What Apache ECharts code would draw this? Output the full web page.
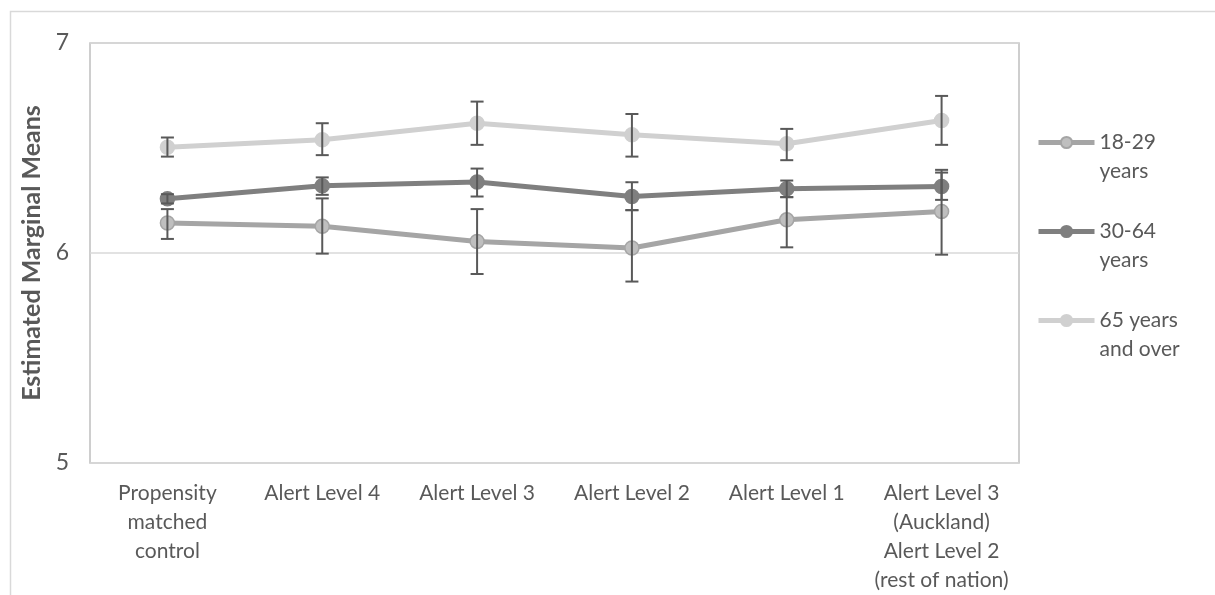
<!DOCTYPE html>
<html>
<head>
<meta charset="utf-8">
<script src="https://cdn.jsdelivr.net/npm/echarts@6/dist/echarts.min.js"></script>
<style>html,body{margin:0;padding:0;background:#fff;}#c{width:1215px;height:595px;}</style>
</head>
<body>
<div id="c"></div>
<script>
const categories = ['Propensity\nmatched\ncontrol', 'Alert Level 4', 'Alert Level 3', 'Alert Level 2', 'Alert Level 1', 'Alert Level 3\n(Auckland)\nAlert Level 2\n(rest of nation)'];
const seriesNames = ['18-29\nyears', '30-64\nyears', '65 years\nand over'];
const mean18 = [6.143, 6.127, 6.055, 6.024, 6.158, 6.198];
const low18 = [6.067, 5.997, 5.900, 5.864, 6.027, 5.992];
const high18 = [6.209, 6.260, 6.209, 6.204, 6.266, 6.383];
const mean30 = [6.258, 6.320, 6.338, 6.269, 6.306, 6.317];
const low30 = [6.236, 6.277, 6.269, 6.204, 6.266, 6.253];
const high30 = [6.280, 6.360, 6.402, 6.337, 6.345, 6.396];
const mean65 = [6.504, 6.539, 6.618, 6.563, 6.520, 6.631];
const low65 = [6.459, 6.466, 6.515, 6.459, 6.442, 6.515];
const high65 = [6.550, 6.618, 6.721, 6.662, 6.591, 6.748];
const yTicks = [5, 6, 7];

const FONT = 'Lato';
const TXT = '#595959';

function errSeries(low, high, name) {
  return {
    type: 'custom',
    name: name + '_err',
    z: 5,
    silent: true,
    data: low.map((l, i) => [i, l, high[i]]),
    encode: { x: 0, y: [1, 2] },
    renderItem: function (params, api) {
      const x = api.value(0);
      const p1 = api.coord([x, api.value(1)]);
      const p2 = api.coord([x, api.value(2)]);
      const hw = 6.5;
      const st = { stroke: '#595959', lineWidth: 2 };
      return {
        type: 'group',
        children: [
          { type: 'line', shape: { x1: p1[0], y1: p1[1], x2: p2[0], y2: p2[1] }, style: st },
          { type: 'line', shape: { x1: p1[0] - hw, y1: p1[1], x2: p1[0] + hw, y2: p1[1] }, style: st },
          { type: 'line', shape: { x1: p2[0] - hw, y1: p2[1], x2: p2[0] + hw, y2: p2[1] }, style: st }
        ]
      };
    }
  };
}

function lineSeries(name, data, lineColor, fill, border) {
  return {
    type: 'line',
    name: name,
    data: data,
    symbol: 'circle',
    symbolSize: 14,
    z: 3,
    lineStyle: { width: 5, color: lineColor },
    itemStyle: { color: fill, borderColor: border, borderWidth: 1.5 },
    emphasis: { disabled: true }
  };
}

const chart = echarts.init(document.getElementById('c'), null, { renderer: 'canvas' });
chart.setOption({
  animation: false,
  backgroundColor: '#fff',
  textStyle: { fontFamily: FONT },
  graphic: [{
    type: 'rect', left: 8, top: 9, z: -10,
    shape: { width: 1230, height: 620 },
    style: { fill: 'none', stroke: '#d9d9d9', lineWidth: 1.5 }
  }],
  grid: { left: 90, right: 196, top: 43, bottom: 132, show: true, borderColor: '#bfbfbf', borderWidth: 1.5, backgroundColor: 'transparent' },
  legend: {
    orient: 'vertical',
    left: 1036,
    top: 99,
    padding: 0,
    itemGap: 2,
    itemWidth: 56,
    itemHeight: 14,
    data: seriesNames,
    lineStyle: { width: 5 },
    formatter: n => '\n' + n,
    textStyle: { fontFamily: FONT, fontSize: 21, color: TXT, lineHeight: 29 }
  },
  xAxis: {
    type: 'category',
    data: categories,
    boundaryGap: true,
    axisLine: { show: false },
    axisTick: { show: false },
    axisLabel: { color: TXT, fontSize: 21, fontFamily: FONT, lineHeight: 29, margin: 16, interval: 0 }
  },
  yAxis: {
    type: 'value',
    min: 5, max: 7, interval: 1,
    name: 'Estimated Marginal Means',
    nameLocation: 'middle',
    nameGap: 38,
    nameRotate: 90,
    nameTextStyle: { fontFamily: FONT, fontSize: 25, fontWeight: 'bold', color: TXT },
    axisLine: { show: false },
    axisTick: { show: false },
    axisLabel: { color: TXT, fontSize: 23, fontFamily: FONT, margin: 21, formatter: v => yTicks.includes(v) ? String(v) : '' },
    splitLine: { lineStyle: { color: '#d9d9d9', width: 1.5 } }
  },
  series: [
    lineSeries(seriesNames[0], mean18, '#a5a5a5', '#bfbfbf', '#a5a5a5'),
    lineSeries(seriesNames[1], mean30, '#7f7f7f', '#7f7f7f', '#7f7f7f'),
    lineSeries(seriesNames[2], mean65, '#d0d0d0', '#d0d0d0', '#d0d0d0'),
    errSeries(low18, high18, 's18'),
    errSeries(low30, high30, 's30'),
    errSeries(low65, high65, 's65')
  ]
});
</script>
</body>
</html>
